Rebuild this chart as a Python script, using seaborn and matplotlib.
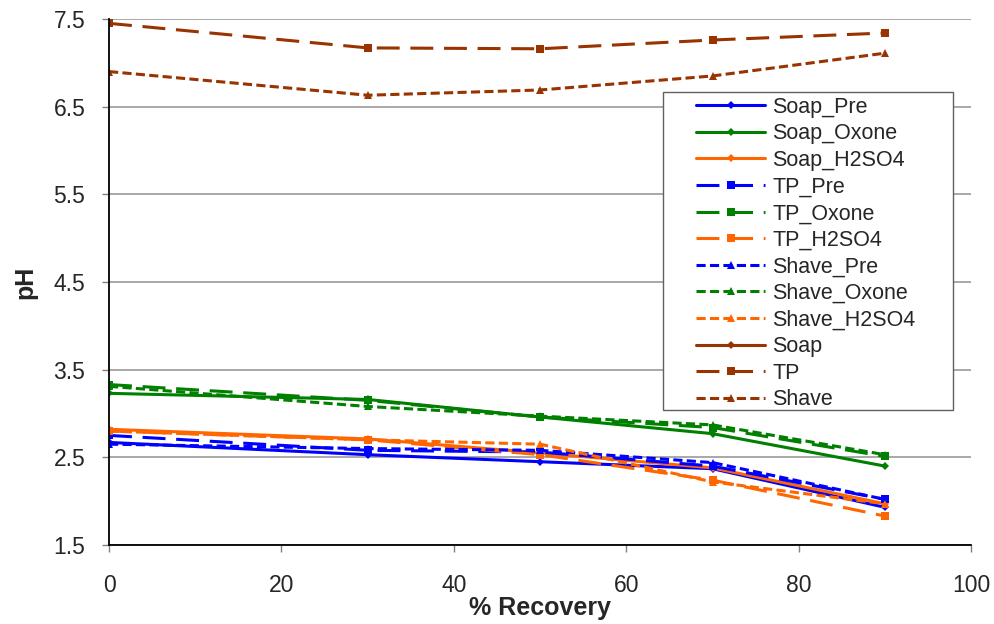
import pandas as pd
import matplotlib
matplotlib.use('Agg')
import matplotlib.pyplot as plt
from matplotlib.patches import Rectangle
import seaborn as sns
import numpy as np

recovery = [0, 30, 50, 70, 90]

soap_pre = [2.67, 2.53, 2.45, 2.37, 1.93]
soap_oxone = [3.23, 3.16, 2.96, 2.77, 2.40]
soap_h2so4 = [2.82, 2.71, 2.55, 2.38, 1.97]
tp_pre = [2.75, 2.58, 2.56, 2.40, 2.02]
tp_oxone = [3.33, 3.15, 2.96, 2.84, 2.51]
tp_h2so4 = [2.80, 2.70, 2.53, 2.24, 1.83]
shave_pre = [2.65, 2.60, 2.58, 2.44, 2.02]
shave_oxone = [3.31, 3.08, 2.97, 2.87, 2.53]
shave_h2so4 = [2.80, 2.70, 2.65, 2.22, 1.97]
soap = [np.nan, np.nan, np.nan, np.nan, np.nan]
tp = [7.45, 7.17, 7.16, 7.26, 7.34]
shave = [6.90, 6.63, 6.69, 6.85, 7.11]

series = {
    'Soap_Pre': soap_pre, 'Soap_Oxone': soap_oxone, 'Soap_H2SO4': soap_h2so4,
    'TP_Pre': tp_pre, 'TP_Oxone': tp_oxone, 'TP_H2SO4': tp_h2so4,
    'Shave_Pre': shave_pre, 'Shave_Oxone': shave_oxone, 'Shave_H2SO4': shave_h2so4,
    'Soap': soap, 'TP': tp, 'Shave': shave,
}

colors = {'Pre': '#0000FF', 'Oxone': '#008000', 'H2SO4': '#FF6600', '': '#993300'}
styles = {
    'Soap': ('-', 'D', 4),
    'TP': ((0, (7.5, 3.5)), 's', 5.5),
    'Shave': ((0, (3, 1.4)), '^', 5.5),
}

sns.set_style('white')
plt.rcParams['font.family'] = ['Liberation Sans', 'DejaVu Sans']

fig, ax = plt.subplots(figsize=(9.94, 6.24), dpi=100)
fig.subplots_adjust(left=0.1097, right=0.977, top=0.9696, bottom=0.1266)

for name, vals in series.items():
    base, _, treat = name.partition('_')
    ls, mk, ms = styles[base]
    df = pd.DataFrame({'x': recovery, 'y': vals})
    sns.lineplot(data=df, x='x', y='y', ax=ax, color=colors[treat], linestyle=ls,
                 marker=mk, markersize=ms, markeredgewidth=0, linewidth=2.2,
                 label=name)

ax.set_xlim(0, 100)
ax.set_ylim(1.5, 7.5)
ax.set_xticks([0, 20, 40, 60, 80, 100])
ax.set_yticks([1.5, 2.5, 3.5, 4.5, 5.5, 6.5, 7.5])
ax.set_yticklabels(['1.5', '2.5', '3.5', '4.5', '5.5', '6.5', '7.5'])
ax.yaxis.grid(True, color='#999999', linewidth=1.2)
ax.set_axisbelow(True)
for s in ['top', 'right']:
    ax.spines[s].set_visible(False)
for s in ['left', 'bottom']:
    ax.spines[s].set_color('black')
    ax.spines[s].set_linewidth(1.3)
ax.tick_params(axis='both', labelsize=16.5, direction='out', length=5, width=1,
               color='#808080', left=True, bottom=True)
ax.tick_params(axis='y', pad=12)
ax.tick_params(axis='x', pad=16)
ax.set_xlabel('% Recovery', fontsize=18, fontweight='bold', labelpad=-1)
ax.set_ylabel('pH', fontsize=18, fontweight='bold', labelpad=12)

# legend frame drawn separately so the horizontal padding can be wider
ax.add_patch(Rectangle((0.6427, 0.2567), 0.3364, 0.6045, transform=ax.transAxes,
                       facecolor='white', edgecolor='#606060', linewidth=1,
                       zorder=4, clip_on=False))
leg = ax.legend(loc='upper left', bbox_to_anchor=(0.681, 0.852), fontsize=15.5,
                frameon=False, handlelength=3.2, labelspacing=0.26,
                borderpad=0, handletextpad=0.35, borderaxespad=0)
leg.set_zorder(5)

fig.savefig('out.png', dpi=100, facecolor='white')
